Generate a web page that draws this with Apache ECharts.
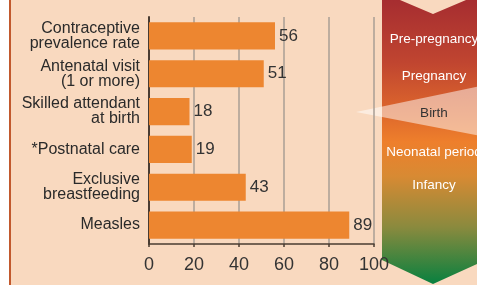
<!DOCTYPE html>
<html>
<head>
<meta charset="utf-8">
<style>
  html, body { margin: 0; padding: 0; background: #fff; }
  #chart { width: 477px; height: 285px; }
</style>
<script src="https://cdn.jsdelivr.net/npm/echarts@6/dist/echarts.min.js"></script>
</head>
<body>
<div id="chart"></div>
<script>
var categories = [
  'Contraceptive\nprevalence rate',
  'Antenatal visit\n(1 or more)',
  'Skilled attendant\nat birth',
  '*Postnatal care',
  'Exclusive\nbreastfeeding',
  'Measles'
];
var coverage = [56, 51, 18, 19, 43, 89];
var xTicks = [0, 20, 40, 60, 80, 100];
var stages = ['Pre-pregnancy', 'Pregnancy', 'Birth', 'Neonatal period', 'Infancy'];
var stageY = [39, 76, 113, 152, 185];

var FONT = '"Liberation Sans", Arial, sans-serif';

// 基于准备好的dom，初始化echarts实例
var myChart = echarts.init(document.getElementById('chart'));

var graphics = [
  { type: 'rect', z: -5, shape: { x: 0, y: 0, width: 9, height: 285 }, style: { fill: '#ffffff' } },
  { type: 'rect', z: -5, shape: { x: 9, y: 0, width: 2, height: 285 }, style: { fill: '#C2592D' } },
  {
    type: 'polygon', z: -4,
    shape: { points: [[382, 0], [400, 0], [433, 14], [466, 0], [486, 0], [486, 260], [433, 284], [382, 260]] },
    style: {
      fill: new echarts.graphic.LinearGradient(0, 0, 0, 1, [
        { offset: 0, color: '#A62D30' },
        { offset: 0.22, color: '#C04530' },
        { offset: 0.4, color: '#DE682C' },
        { offset: 0.5, color: '#EE7F2C' },
        { offset: 0.62, color: '#D88A33' },
        { offset: 0.8, color: '#8A8A3E' },
        { offset: 1, color: '#08803F' }
      ])
    }
  },
  {
    type: 'polygon', z: -3,
    shape: { points: [[356, 112], [486, 85], [486, 137]] },
    style: { fill: 'rgba(255,255,255,0.5)' }
  }
];
stages.forEach(function (s, i) {
  graphics.push({
    type: 'text', z: 10,
    style: {
      text: s, x: 434, y: stageY[i],
      textAlign: 'center', textVerticalAlign: 'middle',
      fill: s === 'Birth' ? '#333333' : '#ffffff',
      font: '13.5px ' + FONT
    }
  });
});

// 绘制图表
myChart.setOption({
  backgroundColor: '#F9D9BF',
  textStyle: { fontFamily: FONT },
  animation: false,
  graphic: graphics,
  grid: { left: 149, top: 17, width: 225, height: 227, containLabel: false },
  xAxis: {
    type: 'value',
    min: xTicks[0],
    max: xTicks[xTicks.length - 1],
    interval: xTicks[1] - xTicks[0],
    axisLine: { show: true, lineStyle: { color: '#4A3C32', width: 1.5 } },
    axisTick: { show: true, length: 3, lineStyle: { color: '#4A3C32', width: 1.5 } },
    splitLine: { show: true, lineStyle: { color: '#A89E94', width: 1.5 } },
    axisLabel: { fontSize: 18, color: '#333333', margin: 12 }
  },
  yAxis: {
    type: 'category',
    inverse: true,
    data: categories,
    axisLine: { show: true, lineStyle: { color: '#4A3C32', width: 2 } },
    axisTick: { show: false },
    axisLabel: { fontSize: 16, lineHeight: 15, color: '#2A2A2A', margin: 9, align: 'right' }
  },
  series: [{
    type: 'bar',
    data: coverage,
    barCategoryGap: '28%',
    itemStyle: { color: '#ED8630' },
    label: { show: true, position: 'right', distance: 4, fontSize: 17, color: '#333333' }
  }]
});
</script>
</body>
</html>
